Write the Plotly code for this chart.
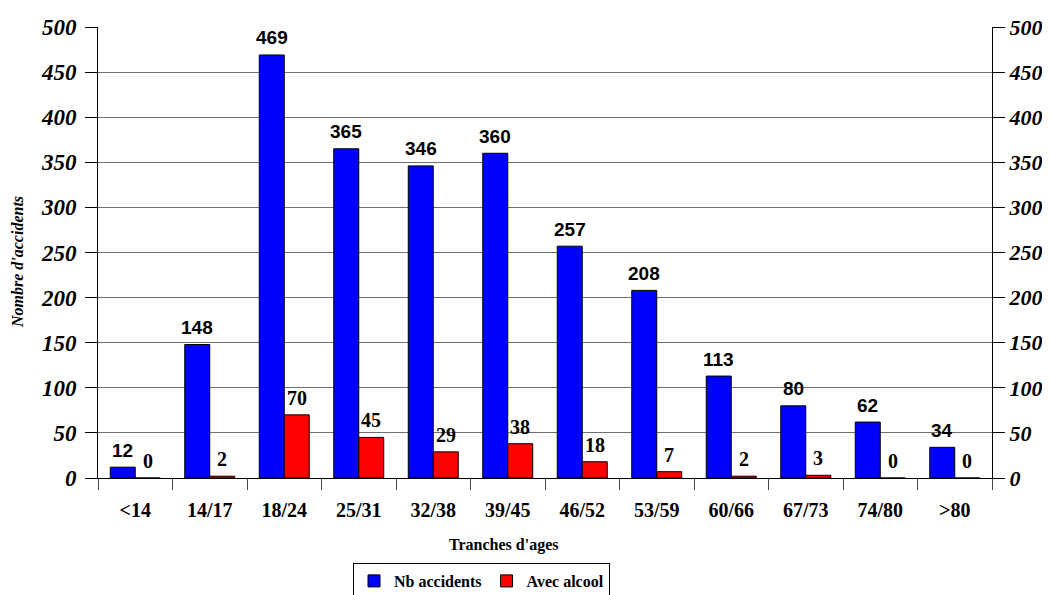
import plotly.graph_objects as go

categories = ["<14", "14/17", "18/24", "25/31", "32/38", "39/45", "46/52", "53/59", "60/66", "67/73", "74/80", ">80"]
nb_accidents = [12, 148, 469, 365, 346, 360, 257, 208, 113, 80, 62, 34]
avec_alcool = [0, 2, 70, 45, 29, 38, 18, 7, 2, 3, 0, 0]
y_ticks = [0, 50, 100, 150, 200, 250, 300, 350, 400, 450, 500]

# page offset (body margin) of 8px
OFF = 8
W, H = 1050 - OFF, 595 - OFF
ML = 98 - OFF
MT = 27 - OFF
PR = 992 - OFF          # right edge of plot area in figure px
PB = 478 - OFF          # bottom edge of plot area in figure px
MR = W - PR
MB = H - PB
plot_w = PR - ML
plot_h = PB - MT
bargap = 0.329
bar_px = plot_w / len(categories) * (1 - bargap) / 2

serif = "Liberation Serif"
sans = "Liberation Sans"


def px_x(sx):
    return (sx - OFF - ML) / plot_w


def px_y(sy):
    return (PB - (sy - OFF)) / plot_h


fig = go.Figure()
fig.add_trace(go.Bar(x=categories, y=nb_accidents, name="Nb accidents",
                     marker=dict(color="#0000FF", line=dict(color="black", width=1)),
                     hoverinfo="skip"))
fig.add_trace(go.Bar(x=categories, y=avec_alcool, name="Avec alcool",
                     marker=dict(color="#FF0000", line=dict(color="black", width=1)),
                     hoverinfo="skip"))
fig.add_trace(go.Scatter(x=categories, y=nb_accidents, yaxis="y2", mode="none",
                         showlegend=False, hoverinfo="skip"))

annotations = []
for c, v in zip(categories, nb_accidents):
    annotations.append(dict(x=c, y=v, xref="x", yref="y", text=str(v), showarrow=False,
                            xshift=-bar_px / 2, yshift=17, yanchor="middle",
                            font=dict(family=sans, size=19, color="black", weight="bold")))
for c, v in zip(categories, avec_alcool):
    annotations.append(dict(x=c, y=v, xref="x", yref="y", text=str(v), showarrow=False,
                            xshift=bar_px / 2, yshift=17, yanchor="middle",
                            font=dict(family=serif, size=20, color="black", weight="bold")))

annotations.append(dict(xref="paper", yref="paper", x=px_x(18), y=px_y(262),
                        text="Nombre d'accidents", textangle=-90, showarrow=False,
                        xanchor="center", yanchor="middle",
                        font=dict(family=serif, size=16, color="black", weight="bold", style="italic")))
annotations.append(dict(xref="paper", yref="paper", x=px_x(503), y=px_y(545),
                        text="Tranches d'ages", showarrow=False,
                        xanchor="center", yanchor="middle",
                        font=dict(family=serif, size=16, color="black", weight="bold")))

tickfont_y = dict(family=serif, size=23, color="black", weight="bold", style="italic")
tickfont_y2 = dict(family=serif, size=22, color="black", weight="bold", style="italic")

fig.update_layout(
    width=W, height=H,
    margin=dict(l=ML, r=MR, t=MT, b=MB, autoexpand=False),
    paper_bgcolor="white", plot_bgcolor="white",
    barmode="group", bargap=bargap, bargroupgap=0,
    showlegend=True,
    legend=dict(orientation="h", x=px_x(353), y=px_y(563),
                xanchor="left", yanchor="top",
                bordercolor="black", borderwidth=1, bgcolor="white",
                font=dict(family=serif, size=16, color="black", weight="bold"),
                traceorder="normal"),
    xaxis=dict(type="category", showline=True, linecolor="black", linewidth=1,
               ticks="outside", tickson="boundaries", ticklen=11, tickcolor="#444",
               ticklabelstandoff=14,
               tickfont=dict(family=serif, size=20, color="black", weight="bold"),
               showgrid=False, zeroline=False),
    yaxis=dict(range=[0, 500], tickvals=y_ticks, showline=True, linecolor="black", linewidth=1,
               ticks="outside", ticklen=12, tickcolor="black", ticklabelstandoff=4,
               tickfont=tickfont_y, showgrid=True, gridcolor="#707070", gridwidth=1,
               zeroline=False),
    yaxis2=dict(range=[0, 500], tickvals=y_ticks, overlaying="y", side="right",
                showline=True, linecolor="black", linewidth=1,
                ticks="outside", ticklen=12, tickcolor="black", ticklabelstandoff=0,
                tickfont=tickfont_y2, showgrid=False, zeroline=False),
    annotations=annotations,
)

fig.write_html("out.html")
